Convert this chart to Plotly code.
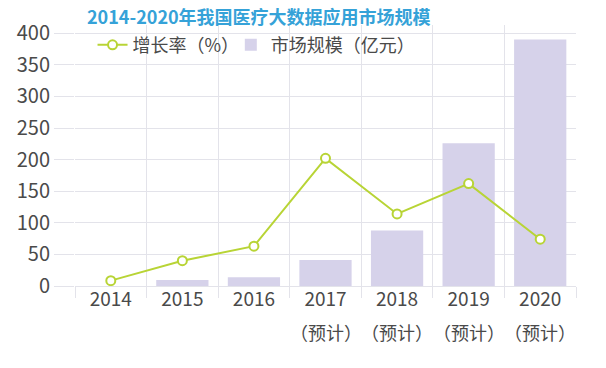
import plotly.graph_objects as go

years = ["2014", "2015", "2016", "2017", "2018", "2019", "2020"]
forecast = ["", "", "", "（预计）", "（预计）", "（预计）", "（预计）"]
growth = [8.5, 40, 63, 202, 114, 162, 74]          # 增长率（%）
market = [None, 9.6, 14, 41, 88, 226, 390]         # 市场规模（亿元）

FONT = "Noto Sans CJK SC"
TXT = "#4a4a4a"
GRID = "#e3e3ea"
GREEN = "#b8d435"
BAR = "#d6d2ea"

fig = go.Figure()
fig.add_trace(go.Bar(
    x=years, y=market, name="市场规模（亿元）",
    marker=dict(color=BAR, line=dict(width=0)),
    width=0.73, legend="legend2",
))
fig.add_trace(go.Scatter(
    x=years, y=growth, name="增长率（%）", mode="lines+markers",
    line=dict(color=GREEN, width=2),
    marker=dict(symbol="circle", size=9, color="white",
                line=dict(color=GREEN, width=2)),
    legend="legend",
))

for i, f in enumerate(forecast):
    if f:
        fig.add_annotation(x=i, xref="x", y=-0.176, yref="paper",
                           text=f, showarrow=False, yanchor="middle",
                           font=dict(family=FONT, size=18, color=TXT))

legend_style = dict(orientation="h", xanchor="left", y=0.923,
                    yanchor="middle", bgcolor="rgba(0,0,0,0)",
                    font=dict(family=FONT, size=18, color=TXT),
                    itemwidth=30)

fig.update_layout(
    width=606, height=368,
    margin=dict(l=75, r=30, t=25, b=82),
    paper_bgcolor="white", plot_bgcolor="white",
    font=dict(family=FONT, size=17, color=TXT),
    title=dict(text="<b>2014-2020年我国医疗大数据应用市场规模</b>",
               x=87/606, xanchor="left", xref="container",
               y=1-18/368, yanchor="middle", yref="container",
               font=dict(family=FONT, size=18, color="#35a2d8")),
    showlegend=True,
    legend=dict(x=0.035, **legend_style),
    legend2=dict(x=0.311, **legend_style),
    bargap=0.27,
)
fig.update_xaxes(
    type="category", tickson="boundaries", ticks="outside", ticklen=11,
    tickcolor=GRID, tickwidth=1, showgrid=True, gridcolor=GRID, gridwidth=1,
    showline=False, zeroline=False, ticklabelstandoff=0,
    tickfont=dict(family=FONT, size=19, color=TXT),
    range=[-0.5, 6.5],
)
fig.update_yaxes(
    range=[0, 413], tickvals=[0, 50, 100, 150, 200, 250, 300, 350, 400],
    ticks="outside", ticklen=20, tickcolor=GRID, tickwidth=1,
    showgrid=True, gridcolor=GRID, gridwidth=1,
    zeroline=True, zerolinecolor=GRID, zerolinewidth=1,
    showline=False,
    tickfont=dict(family=FONT, size=20, color=TXT),
)

fig.write_html("out.html", config={"displayModeBar": False},
               post_script="document.body.style.margin='0';")
